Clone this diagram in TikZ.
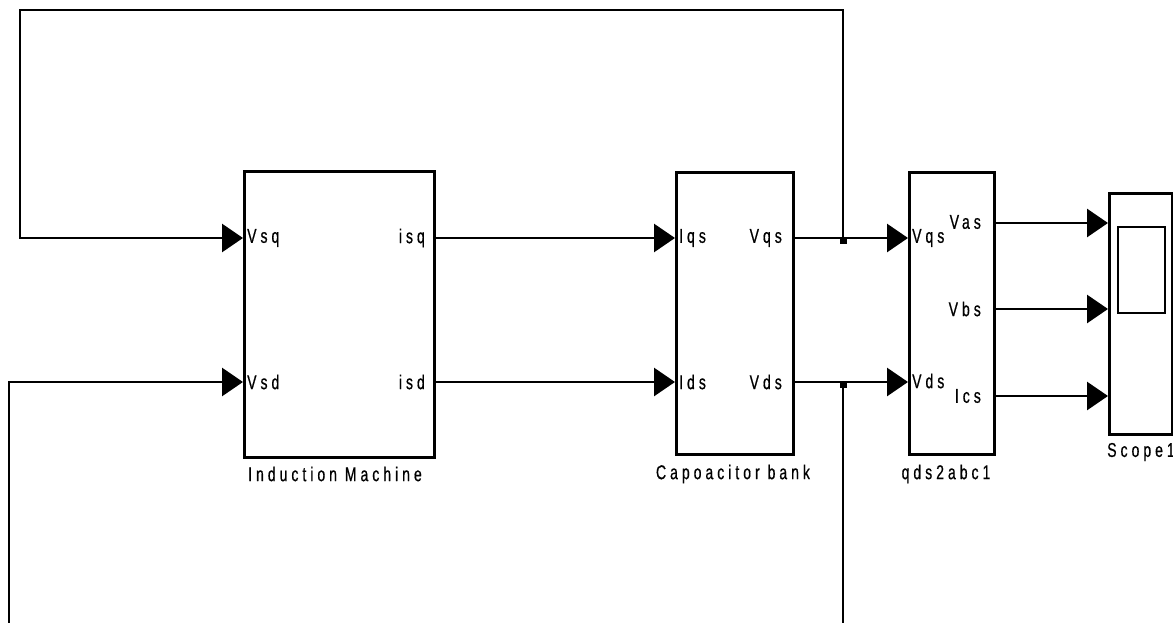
\documentclass[tikz,border=0pt]{standalone}
\usepackage{fontspec}
\usetikzlibrary{arrows.meta,calc}
\newfontfamily\labfont[FakeStretch=0.7,LetterSpace=20,FakeBold=0.6]{Liberation Sans}
\tikzset{
  blk/.style={draw, line width=2.6pt, anchor=north west, inner sep=0pt},
  wire/.style={line width=2.8pt},
  sig/.style={wire, -{Triangle[length=21pt,width=28pt]}},
  lab/.style={inner sep=0pt, font=\labfont\fontsize{20}{20}\selectfont},
  jn/.style={fill, minimum size=7pt, inner sep=0pt, draw=none}
}
\begin{document}
\begin{tikzpicture}[x=1pt,y=-1pt]
\useasboundingbox (0,0) rectangle (1173,623);
\clip (0,0) rectangle (1173,623);
% blocks
\node[blk, minimum width=190pt, minimum height=286pt] (im) at (243,170) {};
\node[blk, minimum width=117pt, minimum height=282pt] (cap) at (675,171) {};
\node[blk, minimum width=85pt, minimum height=282pt] (qds) at (908,171) {};
\node[blk, minimum width=63pt, minimum height=241pt] (scope) at (1108,192) {};
\node[blk, line width=2.4pt, minimum width=47pt, minimum height=86pt] (screen) at (1117,226) {};
% block titles
\node[lab] (imT) at (335,474) {Induction Machine};
\node[lab] (capT) at (733,474) {Capoacitor bank};
\node[lab] (qdsT) at (946,474) {qds2abc1};
\node[lab] (scT) at (1141,452) {Scope1};
% ports
\coordinate (imVsq) at (243,238);
\coordinate (imVsd) at (243,382);
\coordinate (imIsq) at (433,238);
\coordinate (imIsd) at (433,382);
\coordinate (capIqs) at (675,238);
\coordinate (capIds) at (675,382);
\coordinate (capVqs) at (792,238);
\coordinate (capVds) at (792,382);
\coordinate (qdsVqs) at (908,238);
\coordinate (qdsVds) at (908,382);
\coordinate (qdsVas) at (993,223);
\coordinate (qdsVbs) at (993,309);
\coordinate (qdsIcs) at (993,396);
\coordinate (scA) at (1108,223);
\coordinate (scB) at (1108,309);
\coordinate (scC) at (1108,396);
% port labels
\node[lab, anchor=west] at (247,238) {Vsq};
\node[lab, anchor=west] at (247,382) {Vsd};
\node[lab, anchor=east] at (425,238) {isq};
\node[lab, anchor=east] at (425,382) {isd};
\node[lab, anchor=west] at (679,238) {Iqs};
\node[lab, anchor=west] at (679,382) {Ids};
\node[lab, anchor=east] at (782,238) {Vqs};
\node[lab, anchor=east] at (782,382) {Vds};
\node[lab, anchor=west] at (912,238) {Vqs};
\node[lab, anchor=west] at (912,381) {Vds};
\node[lab, anchor=east] at (981,222) {Vas};
\node[lab, anchor=east] at (981,309) {Vbs};
\node[lab, anchor=east] at (981,396) {Ics};
% junctions
\node[jn] (jq) at (843,240) {};
\node[jn] (jd) at (843,384) {};
% signals
\draw[sig] (imIsq) -- (capIqs);
\draw[sig] (imIsd) -- (capIds);
\draw[sig] (capVqs) -- (qdsVqs);
\draw[sig] (capVds) -- (qdsVds);
\draw[sig] (jq.center) -- (843,10) -- (20,10) -- (20,238) -- (imVsq);
\draw[sig] (jd.center) -- (843,640) -- (9,640) -- (9,382) -- (imVsd);
\draw[sig] (qdsVas) -- (scA);
\draw[sig] (qdsVbs) -- (scB);
\draw[sig] (qdsIcs) -- (scC);
\end{tikzpicture}
\end{document}
